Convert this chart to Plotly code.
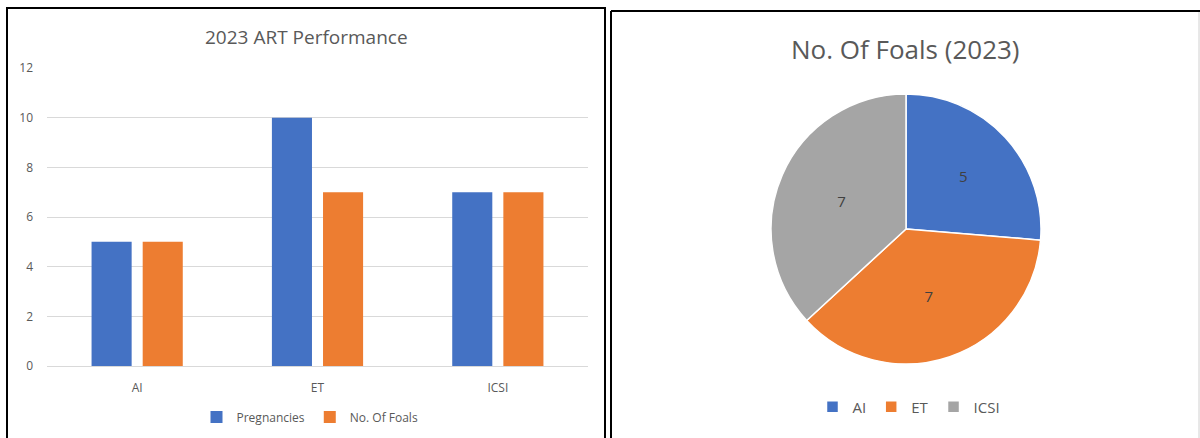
import plotly.graph_objects as go

categories = ["AI", "ET", "ICSI"]
pregnancies = [5, 10, 7]
foals = [5, 7, 7]
y_ticks = [0, 2, 4, 6, 8, 10, 12]

pie_labels = ["AI", "ET", "ICSI"]
pie_values = [5, 7, 7]

BLUE = "#4472C4"
ORANGE = "#ED7D31"
GRAY = "#A5A5A5"
TXT = "#595959"
FONT = "Open Sans"

W, H = 1200, 438
def px(x):
    return x / W
def py(y):
    return 1 - y / H

fig = go.Figure()
fig.add_trace(go.Bar(name="Pregnancies", x=categories, y=pregnancies,
                     marker=dict(color=BLUE, line=dict(width=0)),
                     xaxis="x", yaxis="y", legend="legend"))
fig.add_trace(go.Bar(name="No. Of Foals", x=categories, y=foals,
                     marker=dict(color=ORANGE, line=dict(width=0)),
                     xaxis="x", yaxis="y", legend="legend"))
fig.add_trace(go.Pie(labels=pie_labels, values=pie_values, sort=False,
                     direction="clockwise", rotation=0,
                     marker=dict(colors=[BLUE, ORANGE, GRAY],
                                 line=dict(color="white", width=1.5)),
                     textinfo="value", textposition="inside",
                     insidetextfont=dict(color="#404040", size=15, family=FONT),
                     domain=dict(x=[px(771), px(1041)], y=[py(364), py(94)]),
                     automargin=False,
                     legend="legend2", showlegend=True, hoverinfo="label+value"))

fig.update_layout(
    width=W, height=H, autosize=False,
    margin=dict(l=0, r=0, t=0, b=0, pad=0, autoexpand=False),
    paper_bgcolor="white", plot_bgcolor="white",
    font=dict(family=FONT, color=TXT),
    barmode="group", bargap=0.433, bargroupgap=0.216,
    xaxis=dict(domain=[px(47), px(588)], showgrid=False, showline=True,
               linecolor="#d9d9d9", linewidth=1, ticks="", automargin=False,
               ticklabelstandoff=11,
               tickfont=dict(size=12, color=TXT, family=FONT)),
    yaxis=dict(domain=[py(366), py(68)], range=[0, 12], tickvals=y_ticks,
               showgrid=True, gridcolor="#d9d9d9", gridwidth=1, automargin=False,
               zeroline=False, showline=False, ticks="",
               ticklabelstandoff=13,
               tickfont=dict(size=12, color=TXT, family=FONT)),
    legend=dict(orientation="h", x=px(310), xanchor="center", y=py(417),
                yanchor="middle", font=dict(size=12, color=TXT, family=FONT),
                bgcolor="rgba(0,0,0,0)", itemwidth=30, traceorder="normal"),
    legend2=dict(orientation="h", x=px(909), xanchor="center", y=py(407),
                 yanchor="middle", font=dict(size=15, color=TXT, family=FONT),
                 bgcolor="rgba(0,0,0,0)", itemwidth=30),
    annotations=[
        dict(text="2023 ART Performance", x=px(306), y=py(37), xref="paper",
             yref="paper", showarrow=False, xanchor="center", yanchor="middle",
             font=dict(size=19, color=TXT, family=FONT)),
        dict(text="No. Of Foals (2023)", x=px(905), y=py(49), xref="paper",
             yref="paper", showarrow=False, xanchor="center", yanchor="middle",
             font=dict(size=26, color=TXT, family=FONT)),
    ],
    shapes=[
        dict(type="rect", xref="paper", yref="paper", x0=px(7), x1=px(605),
             y0=-0.05, y1=py(8), line=dict(color="black", width=2),
             fillcolor="rgba(0,0,0,0)", layer="above"),
        dict(type="line", xref="paper", yref="paper", x0=px(611), x1=1.01,
             y0=py(11), y1=py(11), line=dict(color="black", width=2),
             layer="above"),
        dict(type="line", xref="paper", yref="paper", x0=px(611), x1=px(611),
             y0=-0.05, y1=py(11), line=dict(color="black", width=2),
             layer="above"),
        dict(type="line", xref="paper", yref="paper", x0=px(1199), x1=px(1199),
             y0=-0.05, y1=py(12), line=dict(color="#d0d0d0", width=1),
             layer="above"),
    ],
)

fig.write_html("out.html",
               post_script="document.body.style.margin='0';document.body.style.padding='0';document.body.style.overflow='hidden';")
